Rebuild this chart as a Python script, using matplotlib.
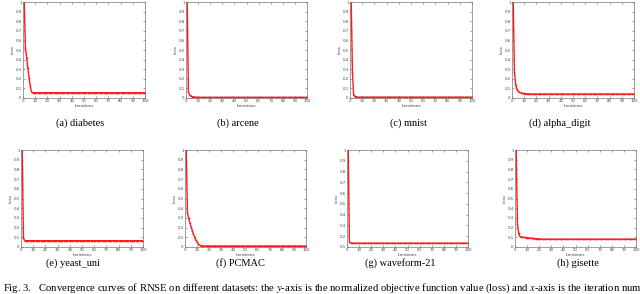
import matplotlib
matplotlib.use("Agg")
import matplotlib.pyplot as plt
import numpy as np

plt.rcParams["mathtext.fontset"] = "stix"

# ---- data ----
iterations = list(range(1, 101))

titles = ["(a) diabetes", "(b) arcene", "(c) mnist", "(d) alpha_digit",
          "(e) yeast_uni", "(f) PCMAC", "(g) waveform-21", "(h) gisette"]

# early iterations read individually, then the flat plateau value
diabetes_head = [1.0, 0.52, 0.42, 0.31, 0.21, 0.12, 0.06, 0.057]
diabetes_tail = 0.055
arcene_head = [1.0, 0.06, 0.03, 0.02, 0.015, 0.012, 0.01, 0.008]
arcene_tail = 0.006
mnist_head = [1.0, 0.27, 0.03, 0.015, 0.012, 0.01]
mnist_tail = 0.008
alpha_head = [1.0, 0.27, 0.14, 0.09, 0.07, 0.06, 0.055, 0.05, 0.048, 0.046,
              0.045, 0.044, 0.043, 0.042, 0.042]
alpha_tail = 0.041
yeast_head = [1.0, 0.09, 0.067]
yeast_tail = 0.065
pcmac_head = [1.0, 0.35, 0.30, 0.25, 0.21, 0.17, 0.13, 0.10, 0.07, 0.05,
              0.03, 0.02, 0.013, 0.011]
pcmac_tail = 0.01
wave_head = [1.0, 0.145, 0.137]
wave_tail = 0.135
gisette_head = [1.0, 0.24, 0.14, 0.11, 0.10, 0.10, 0.10, 0.098, 0.097, 0.095,
                0.094, 0.092, 0.09, 0.089, 0.088, 0.087, 0.086, 0.085, 0.084,
                0.083, 0.082, 0.081]
gisette_tail = 0.08

heads = [diabetes_head, arcene_head, mnist_head, alpha_head,
         yeast_head, pcmac_head, wave_head, gisette_head]
tails = [diabetes_tail, arcene_tail, mnist_tail, alpha_tail,
         yeast_tail, pcmac_tail, wave_tail, gisette_tail]
ymins = [0, 0, 0, 0, 0, 0, 0.1, 0]

caption = ("Fig. 3.   Convergence curves of RNSE on different datasets: the $y$-axis is the "
           "normalized objective function value (loss) and $x$-axis is the iteration number")

# ---- layout (pixels of a 640x294 figure) ----
W, H = 640, 294
axes_px = [(23, 145, 2, 98), (186, 307, 2, 98), (350, 472, 2, 98), (512, 634, 2, 98),
           (21, 143, 150, 247), (185, 306, 150, 247), (347, 468, 150, 247), (515, 636, 150, 247)]
label_px = [(80, 123), (238, 123), (408, 123), (560, 123),
            (73, 263), (240, 263), (400, 263), (578, 263)]

fig = plt.figure(figsize=(6.4, 2.94), dpi=100)
fig.patch.set_facecolor("white")

for i in range(8):
    l, r, t, b = axes_px[i]
    ax = fig.add_axes([l / W, 1 - b / H, (r - l) / W, (b - t) / H])
    y = heads[i] + [tails[i]] * (len(iterations) - len(heads[i]))
    ax.plot(iterations, y, color="#ff1a1a", lw=1.0, marker="+", ms=1.6, mew=0.4)
    ax.set_xlim(0, 100)
    ax.set_ylim(ymins[i], 1)
    ax.set_xticks(np.arange(0, 101, 10))
    ax.set_yticks(np.round(np.arange(ymins[i], 1.0001, 0.1), 1))
    ax.set_yticklabels([("%g" % v) for v in np.round(np.arange(ymins[i], 1.0001, 0.1), 1)])
    ax.tick_params(direction="in", length=1.5, width=0.4, labelsize=2.8, pad=1,
                   top=True, right=True, colors="#555555", labelcolor="#444444")
    for s in ax.spines.values():
        s.set_linewidth(0.5)
        s.set_color("#777777")
    ax.set_xlabel("Iterations", fontsize=3, labelpad=0.5, color="#444444")
    ax.set_ylabel("Loss", fontsize=3, labelpad=0.5, color="#444444")
    lx, ly = label_px[i]
    fig.text(lx / W, 1 - ly / H, titles[i], ha="center", va="center",
             family="Liberation Serif", fontsize=7.5)

fig.text(3 / W, 1 - 288 / H, caption, ha="left", va="center",
         family="Liberation Serif", fontsize=7.65)

fig.savefig("out.png", dpi=100)
